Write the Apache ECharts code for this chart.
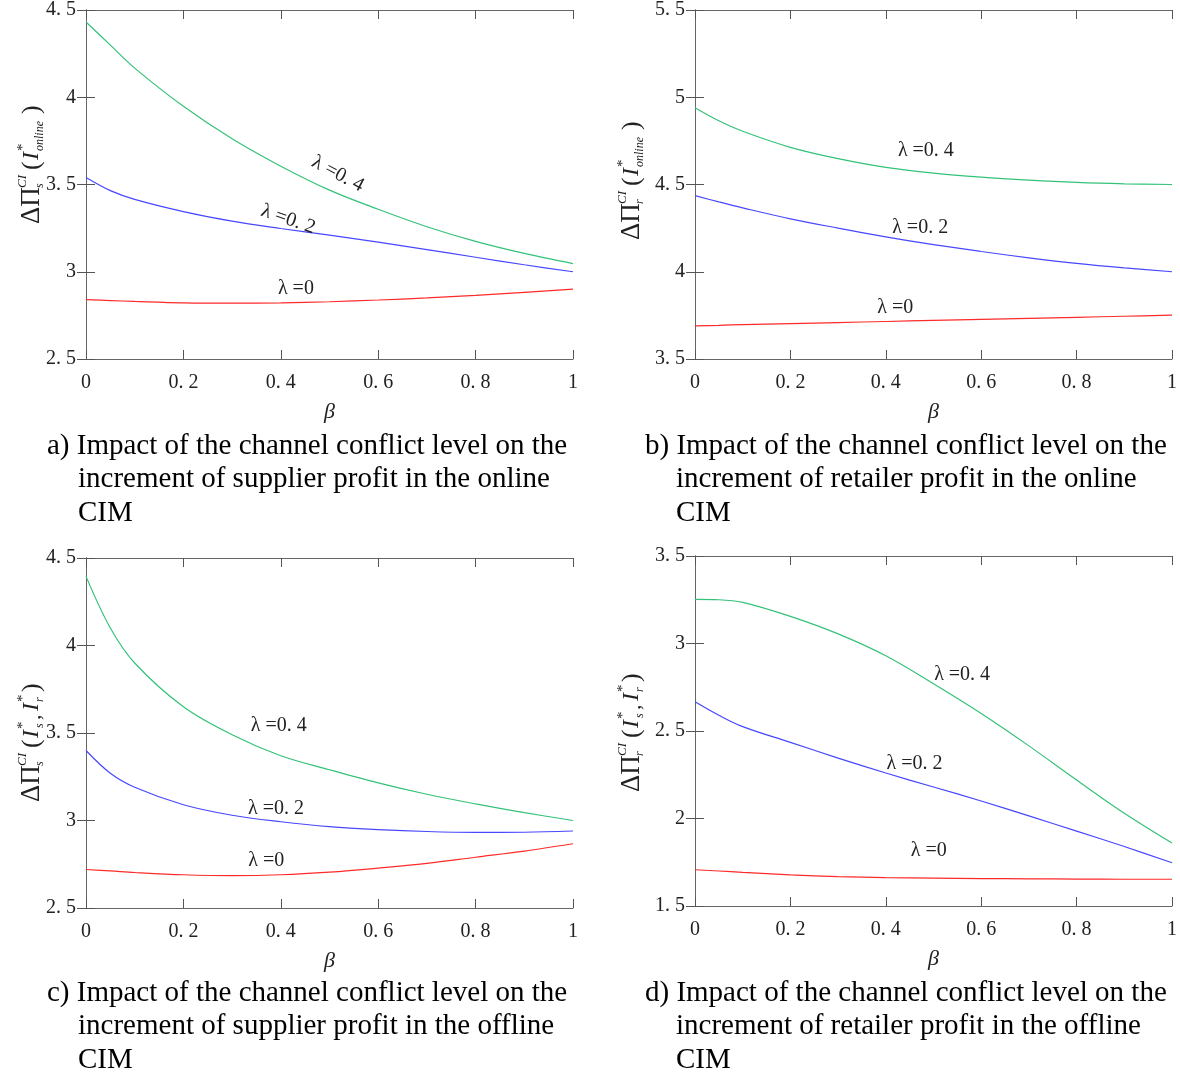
<!DOCTYPE html>
<html>
<head>
<meta charset="utf-8">
<script src="https://cdn.jsdelivr.net/npm/echarts@6/dist/echarts.min.js"></script>
<style>
html, body { margin: 0; padding: 0; background: #fff; }
#main { width: 1180px; height: 1075px; }
</style>
</head>
<body>
<div id="main"></div>
<script>
'use strict';

// β values shared by every curve
const beta = [0, 0.05, 0.1, 0.2, 0.3, 0.4, 0.5, 0.6, 0.7, 0.8, 0.9, 1];
const lambdaNames = ['λ =0', 'λ =0. 2', 'λ =0. 4'];

// a) supplier, online CIM
const aRed = [2.84, 2.835, 2.83, 2.822, 2.82, 2.822, 2.828, 2.838, 2.85, 2.865, 2.882, 2.90];
const aBlue = [3.54, 3.465, 3.415, 3.345, 3.29, 3.248, 3.21, 3.17, 3.127, 3.083, 3.04, 3.0];
const aGreen = [4.431, 4.299, 4.167, 3.948, 3.762, 3.605, 3.468, 3.358, 3.258, 3.174, 3.105, 3.047];
// b) retailer, online CIM
const bRed = [3.69, 3.693, 3.697, 3.703, 3.709, 3.715, 3.721, 3.727, 3.733, 3.739, 3.745, 3.751];
const bBlue = [4.436, 4.40, 4.366, 4.303, 4.25, 4.20, 4.155, 4.116, 4.08, 4.048, 4.022, 4.0];
const bGreen = [4.94, 4.865, 4.805, 4.713, 4.648, 4.598, 4.565, 4.542, 4.525, 4.512, 4.504, 4.50];
// c) supplier, offline CIM
const cRed = [2.72, 2.712, 2.703, 2.69, 2.685, 2.69, 2.705, 2.728, 2.755, 2.79, 2.825, 2.867];
const cBlue = [3.40, 3.27, 3.19, 3.09, 3.03, 2.993, 2.965, 2.948, 2.937, 2.932, 2.933, 2.94];
const cGreen = [4.395, 4.10, 3.90, 3.65, 3.49, 3.37, 3.29, 3.215, 3.15, 3.095, 3.045, 3.0];
// d) retailer, offline CIM
const dRed = [1.707, 1.70, 1.692, 1.678, 1.668, 1.662, 1.659, 1.657, 1.655, 1.654, 1.653, 1.653];
const dBlue = [2.667, 2.59, 2.525, 2.435, 2.345, 2.26, 2.18, 2.10, 2.015, 1.928, 1.84, 1.747];
const dGreen = [3.252, 3.25, 3.235, 3.155, 3.055, 2.93, 2.77, 2.60, 2.415, 2.22, 2.03, 1.86];

const yRanges = [[2.5, 4.5], [3.5, 5.5], [2.5, 4.5], [1.5, 3.5]];

const captions = [
  ['a) Impact of the channel conflict level on the', 'increment of supplier profit in the online', 'CIM'],
  ['b) Impact of the channel conflict level on the', 'increment of retailer profit in the online', 'CIM'],
  ['c) Impact of the channel conflict level on the', 'increment of supplier profit in the offline', 'CIM'],
  ['d) Impact of the channel conflict level on the', 'increment of retailer profit in the offline', 'CIM']
];

// layout
const grids = [
  { left: 86, top: 8, width: 487, height: 351 },
  { left: 695, top: 8, width: 483, height: 351 },
  { left: 86, top: 558, width: 487, height: 350 },
  { left: 695, top: 556, width: 483, height: 350 }
];
// where the λ labels sit, in data units [β, value, rotation]
const labelSpots = [
  [[0.431, 2.905, 0], [0.415, 3.30, -19], [0.517, 3.56, -28]],
  [[0.42, 3.795, 0], [0.472, 4.252, 0], [0.484, 4.694, 0]],
  [[0.37, 2.769, 0], [0.39, 3.065, 0], [0.396, 3.539, 0]],
  [[0.49, 1.817, 0], [0.46, 2.311, 0], [0.56, 2.822, 0]]
];

const colors = ['#ff2a2a', '#4848ff', '#34c279'];
const serif = 'Liberation Serif';
const panels = [[aRed, aBlue, aGreen], [bRed, bBlue, bGreen], [cRed, cBlue, cGreen], [dRed, dBlue, dGreen]];

function fmt(v) {
  const r = Math.round(v * 10) / 10;
  return Number.isInteger(r) ? String(r) : r.toFixed(1).replace('.', '. ');
}

const xAxes = [];
const yAxes = [];
const series = [];

panels.forEach(function (curves, i) {
  const tick = { show: true, inside: true, length: 9, lineStyle: { color: '#555' } };
  const line = { show: true, lineStyle: { color: '#666', width: 1 } };
  xAxes.push({
    type: 'value', gridIndex: i, min: 0, max: 1, interval: 0.2,
    axisLine: line, axisTick: tick, splitLine: { show: false },
    axisLabel: { formatter: fmt, fontFamily: serif, fontSize: 20, color: '#222', margin: 14 },
    name: 'β', nameLocation: 'middle', nameGap: 42,
    nameTextStyle: { fontFamily: serif, fontStyle: 'italic', fontSize: 22, color: '#222' }
  });
  xAxes.push({
    type: 'value', gridIndex: i, position: 'top', min: 0, max: 1, interval: 0.2,
    axisLine: line, axisTick: tick, axisLabel: { show: false }, splitLine: { show: false }
  });
  yAxes.push({
    type: 'value', gridIndex: i, min: yRanges[i][0], max: yRanges[i][1], interval: 0.5,
    axisLine: line, axisTick: tick, splitLine: { show: false },
    axisLabel: { formatter: fmt, fontFamily: serif, fontSize: 20, color: '#222', margin: 10 }
  });
  yAxes.push({
    type: 'value', gridIndex: i, position: 'right', min: yRanges[i][0], max: yRanges[i][1], interval: 0.5,
    axisLine: line, axisTick: tick, axisLabel: { show: false }, splitLine: { show: false }
  });
  curves.forEach(function (vals, k) {
    const spot = labelSpots[i][k];
    series.push({
      type: 'line',
      xAxisIndex: 2 * i,
      yAxisIndex: 2 * i,
      data: beta.map(function (b, j) { return [b, vals[j]]; }),
      smooth: 0.35,
      symbol: 'none',
      lineStyle: { color: colors[k], width: 1.2 },
      markPoint: {
        symbol: 'circle',
        symbolSize: 0,
        silent: true,
        label: {
          show: true, position: 'inside', rotate: spot[2],
          formatter: lambdaNames[k], fontFamily: serif, fontSize: 20, color: '#222'
        },
        data: [{ coord: [spot[0], spot[1]] }]
      }
    });
  });
});

// rotated y axis titles, built from pieces so sub/superscripts stack
function piece(text, x, y, size, italic) {
  return {
    type: 'text', x: x, y: y,
    style: {
      text: text, fontFamily: serif, fontSize: size,
      fontStyle: italic ? 'italic' : 'normal', fill: '#222', verticalAlign: 'middle'
    }
  };
}
function yTitle(x, y, who, online) {
  const kids = [
    piece('ΔΠ', 0, 0, 27, false),
    piece('CI', 36, -9, 13, true),
    piece(who, 36, 8, 12, true),
    piece('(', 54, 0, 26, false),
    piece('I', 64, 0, 24, true),
    piece('*', 73, -9, 15, false)
  ];
  if (online) {
    kids.push(piece('online', 73, 8, 12, true), piece(')', 110, 0, 26, false));
  } else {
    kids.push(piece('s', 74, 8, 12, true), piece(',', 82, 2, 22, false),
      piece('I', 91, 0, 24, true), piece('*', 100, -9, 15, false),
      piece('r', 100, 8, 12, true), piece(')', 110, 0, 26, false));
  }
  return { type: 'group', x: x, y: y, rotation: Math.PI / 2, children: kids };
}

const graphic = [
  yTitle(32, 224, 's', true),
  yTitle(632, 240, 'r', true),
  yTitle(32, 802, 's', false),
  yTitle(632, 792, 'r', false)
];

const capPos = [[47, 446], [645, 446], [47, 993], [645, 993]];
captions.forEach(function (lines, i) {
  lines.forEach(function (txt, j) {
    graphic.push({
      type: 'text',
      x: capPos[i][0] + (j === 0 ? 0 : 31),
      y: capPos[i][1] + j * 33.5,
      style: { text: txt, fontFamily: serif, fontSize: 29, fill: '#000', verticalAlign: 'middle' }
    });
  });
});

const chart = echarts.init(document.getElementById('main'));
chart.setOption({
  animation: false,
  backgroundColor: '#fff',
  grid: grids,
  xAxis: xAxes,
  yAxis: yAxes,
  series: series,
  graphic: graphic
});
window.addEventListener('resize', function () {
  chart.resize();
});
</script>
</body>
</html>
